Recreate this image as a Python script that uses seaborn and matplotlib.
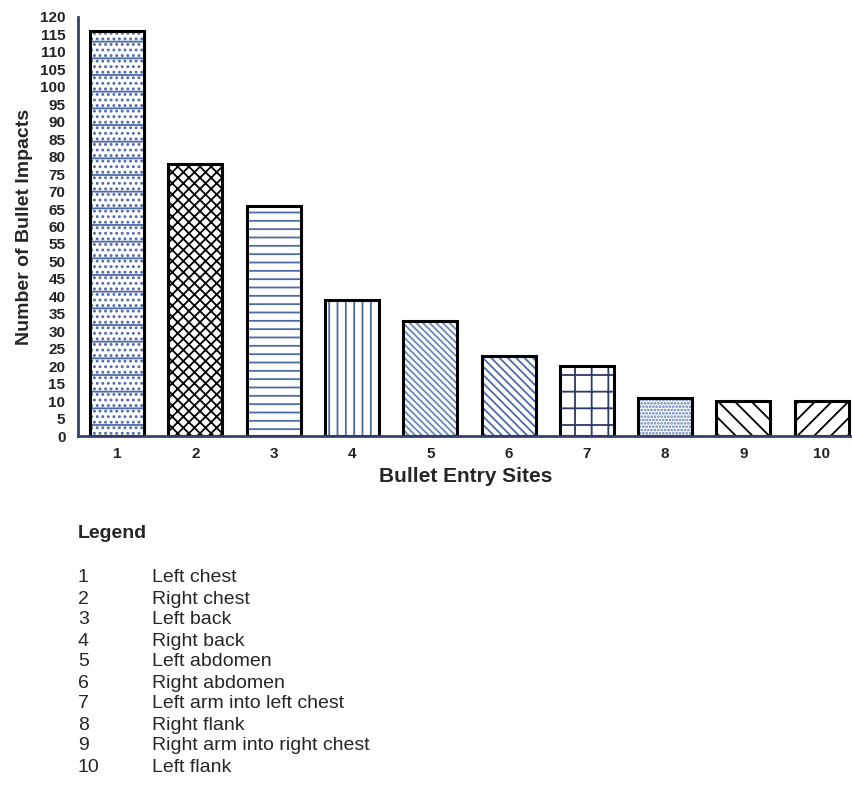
import matplotlib
matplotlib.use('Agg')
import matplotlib.pyplot as plt
import seaborn as sns
import pandas as pd

sites = ['1', '2', '3', '4', '5', '6', '7', '8', '9', '10']
impacts = [116, 78, 66, 39, 33, 23, 20, 11, 10, 10]
site_names = ['Left chest', 'Right chest', 'Left back', 'Right back', 'Left abdomen',
              'Right abdomen', 'Left arm into left chest', 'Right flank',
              'Right arm into right chest', 'Left flank']

hatches = ['-...', 'xxx', '--', '||', '\\\\\\\\\\', '\\\\\\\\', '+', '.....', '\\\\', '//']
hatch_colors = ['#4f6aa8', 'black', '#4f6aa8', '#4f6aa8', '#6a86bd', '#4f6aa8',
                '#2b3a67', '#5a78b0', 'black', 'black']
axis_color = '#34426e'

df = pd.DataFrame({'site': sites, 'impacts': impacts})

sns.set_style('white')
plt.rcParams['font.family'] = ['Liberation Sans', 'DejaVu Sans']
plt.rcParams['hatch.linewidth'] = 1.3

fig = plt.figure(figsize=(8.53, 7.89), dpi=100)
ax = fig.add_axes([0.0914, 0.4474, 0.9086, 0.5311])

# hatched fill first
sns.barplot(data=df, x='site', y='impacts', color='white', width=0.69,
            linewidth=0, ax=ax)
for patch, h, c in zip(list(ax.patches), hatches, hatch_colors):
    patch.set_facecolor('white')
    patch.set_hatch(h)
    patch.set_edgecolor(c)

# black outlines on top
sns.barplot(data=df, x='site', y='impacts', fill=False, color='black',
            edgecolor='black', width=0.69, linewidth=2.2, ax=ax)

ax.set_ylim(0, 120)
ax.set_xlim(-0.5, 9.4)
ax.set_yticks(range(0, 121, 5))
ax.tick_params(axis='y', direction='out', length=7, width=1.5, color=axis_color,
               labelsize=11, pad=2)
ax.tick_params(axis='x', direction='out', length=5, width=1.2, color=axis_color,
               labelsize=11, pad=3)
for lab in ax.get_xticklabels() + ax.get_yticklabels():
    lab.set_fontweight('bold')
    lab.set_color('#222222')

for s in ['top', 'right']:
    ax.spines[s].set_visible(False)
ax.spines['left'].set_color(axis_color)
ax.spines['left'].set_linewidth(2)
ax.spines['bottom'].set_color(axis_color)
ax.spines['bottom'].set_linewidth(2)

ax.set_ylabel('Number of Bullet Impacts', fontsize=14, fontweight='bold', labelpad=5)
ax.set_xlabel('Bullet Entry Sites', fontsize=15, fontweight='bold', labelpad=4)

# legend block under the chart
fig.text(0.0914, 1 - 533 / 789, 'Legend', fontsize=14, fontweight='bold', va='center')
for i, (s, name) in enumerate(zip(sites, site_names)):
    y = 1 - (578 + i * 21) / 789
    fig.text(0.0914, y, s, fontsize=14, va='center')
    fig.text(0.178, y, name, fontsize=14, va='center')

fig.savefig('out.png', dpi=100)
